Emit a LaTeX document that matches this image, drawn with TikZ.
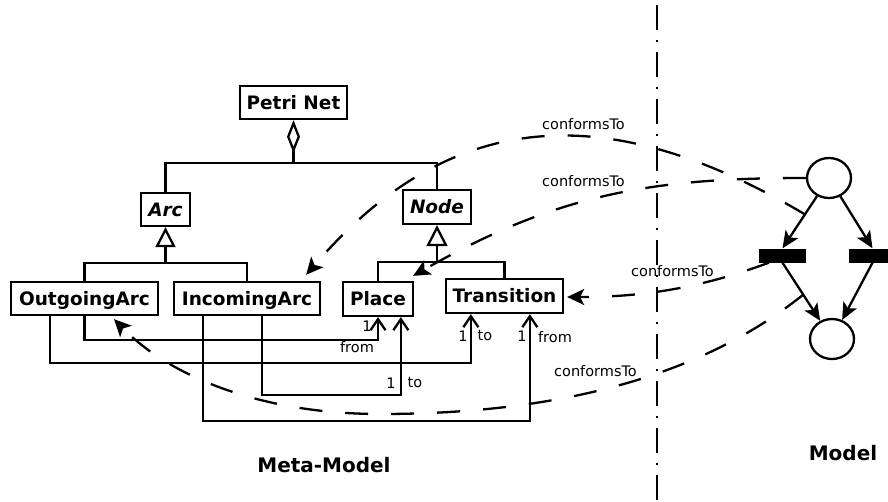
\documentclass[tikz,border=0pt]{standalone}
\usepackage{fontspec}
\setmainfont{DejaVu Sans}
\usetikzlibrary{arrows.meta,shapes.geometric}
\begin{document}
\begin{tikzpicture}[x=1pt,y=-1pt,
  lw/.style={line width=2.3pt},
  cls/.style={draw,line width=2.3pt,inner sep=0pt,font=\fontsize{18.5}{22}\selectfont\bfseries,text height=13.5pt,text depth=0.5pt},
  absc/.style={cls,font=\fontsize{18.5}{22}\selectfont\bfseries\itshape},
  small/.style={inner sep=0pt,font=\fontsize{14.5}{17}\selectfont},
  title/.style={inner sep=0pt,font=\fontsize{20}{24}\selectfont\bfseries},
  assoc/.style={lw,-{Straight Barb[length=11pt,width=15pt]}},
  conf/.style={lw,dash pattern=on 23pt off 23pt,-{Stealth[length=17pt,width=16pt,inset=4pt]}},
  marc/.style={lw,-{Stealth[length=17pt,width=15pt,inset=4pt]}},
  place/.style={ellipse,draw,line width=2.3pt,minimum width=44pt,minimum height=40pt,inner sep=0pt},
  trans/.style={fill=black,minimum width=47pt,minimum height=14pt,inner sep=0pt}
]
\useasboundingbox (0,0) rectangle (888,501);

% classes
\node[cls,minimum width=107pt,minimum height=33pt] (pn) at (293.5,102.5) {Petri Net};
\node[absc,minimum width=49pt,minimum height=33pt] (arc) at (165.5,209.5) {Arc};
\node[absc,minimum width=68pt,minimum height=34pt] (node) at (437,207) {Node};
\node[cls,minimum width=147pt,minimum height=33pt] (oa) at (84.5,298.5) {OutgoingArc};
\node[cls,minimum width=146pt,minimum height=33pt] (ia) at (247,298.5) {IncomingArc};
\node[cls,minimum width=70pt,minimum height=34pt] (pl) at (378,299) {Place};
\node[cls,minimum width=117pt,minimum height=34pt] (tr) at (504.5,296) {Transition};

% aggregation
\coordinate (aggj) at (293.5,163);
\draw[lw,{Diamond[open,length=33pt,width=13pt]}-] (pn.south) -- (aggj);
\draw[lw] (arc.north) |- (aggj) -| (node.north);

% generalizations
\coordinate (gA) at (165.5,263);
\draw[lw,{Triangle[open,length=20pt,width=20pt]}-] (arc.south) -- (gA);
\draw[lw] (oa.north) |- (gA) -| (ia.north);
\coordinate (gN) at (437,262);
\draw[lw,{Triangle[open,length=21pt,width=21pt]}-] (node.south) -- (gN);
\draw[lw] (pl.north) |- (gN) -| (tr.north);

% associations
\draw[assoc] (oa.south) -- ++(0,24) -| (pl.south);
\draw[assoc] ([xshift=40pt]oa.south west) -- ++(0,47) -| ([xshift=26pt]tr.south west);
\draw[assoc] ([xshift=30pt]ia.south west) -- ++(0,105) -| ([xshift=85pt]tr.south west);
\draw[assoc] ([xshift=89pt]ia.south west) -- ++(0,79) -| ([xshift=59pt]pl.south west);

\node[small] (m1) at (367,326) {1};
\node[small] (r1) at (357,347) {from};
\node[small] (m2) at (391,383) {1};
\node[small] (r2) at (415,383) {to};
\node[small] (m3) at (463,336) {1};
\node[small] (r3) at (485,336) {to};
\node[small] (m4) at (522,336) {1};
\node[small] (r4) at (555,337) {from};

% divider
\draw[line width=2.3pt,dash pattern=on 25pt off 10pt on 2pt off 10pt] (657,5) -- (657,501);

% model
\node[place] (p1) at (829,178) {};
\node[place] (p2) at (832,339) {};
\node[trans] (t1) at (782.5,255.5) {};
\node[trans] (t2) at (872.5,255.5) {};
\draw[marc] (p1) -- (t1.north) coordinate[pos=0.35] (cA);
\draw[marc] (p1) -- (t2.north);
\draw[marc] (t1.south) -- (p2) coordinate[pos=0.55] (cD);
\draw[marc] (t2.south) -- (p2);

% conformsTo
\coordinate (tipA) at ([xshift=-15pt,yshift=6pt]ia.north east);
\coordinate (tipB) at ([xshift=-1pt,yshift=5pt]pl.north east);
\coordinate (tipC) at ([xshift=3pt,yshift=-1pt]tr.east);
\coordinate (tipD) at ([xshift=29.5pt,yshift=-3pt]oa.south);
\coordinate (sC) at ([xshift=10pt]t1.south west);
\draw[conf] (cA) .. controls (586,84.5) and (435.6,124.4) .. (tipA);
\draw[conf] (p1.west) .. controls (657,178) and (560,192) .. (tipB);
\draw[conf] (sC) .. controls (690,292) and (630,297) .. (tipC);
\draw[conf] (cD) .. controls (687.5,387.5) and (530,414) .. (380,414) .. controls (260,414) and (169,375.6) .. (tipD);

\node[small] (c1) at (583.5,124) {conformsTo};
\node[small] (c2) at (583.5,181) {conformsTo};
\node[small] (c3) at (672.5,271) {conformsTo};
\node[small] (c4) at (595.5,371) {conformsTo};

\node[title] (mm) at (324,465) {Meta-Model};
\node[title] (ml) at (843,453) {Model};
\end{tikzpicture}
\end{document}
